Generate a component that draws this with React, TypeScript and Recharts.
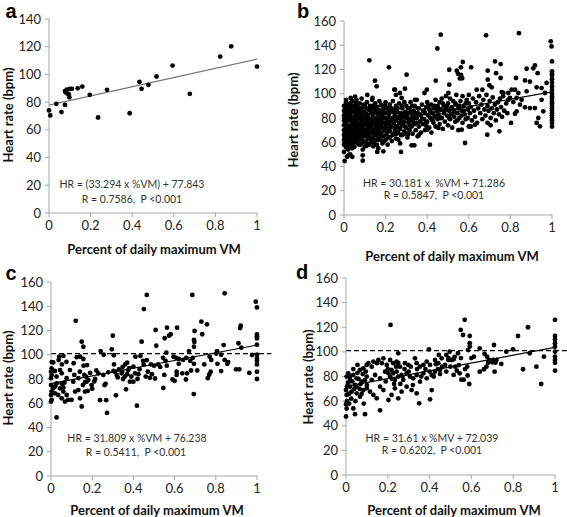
import React from "react";
import { ScatterChart, Scatter, XAxis, YAxis, ReferenceLine } from "recharts";

// x = share of daily maximum VM, y = heart rate (bpm)
const xTicks = [0, 0.2, 0.4, 0.6, 0.8, 1];
const yTicksA = [0, 20, 40, 60, 80, 100, 120, 140];
const yTicks = [0, 20, 40, 60, 80, 100, 120, 140, 160];

const pointsA: [number, number][] = [
  [0, 74], [0.006, 70.4], [0.035, 78.8], [0.06, 72.8], [0.077, 78], [0.077, 88], [0.08, 87], [0.085, 89],
  [0.09, 86], [0.095, 85.7], [0.098, 83.5], [0.1, 89.6], [0.11, 89.6], [0.138, 90], [0.16, 91.2], [0.196, 85.3],
  [0.236, 68.9], [0.279, 88.9], [0.388, 72], [0.435, 94.6], [0.445, 89.6], [0.478, 92.5], [0.517, 98.5],
  [0.594, 106.4], [0.677, 86], [0.823, 112.9], [0.876, 120.3], [1, 105.7],
];

const pointsB: [number, number][] = [
  // sparse / outlying points
  [0.122, 127.6], [0.216, 121.8], [0.149, 110.8], [0.157, 106.1], [0.242, 103.4], [0.25, 99], [0.016, 48.4],
  [0.024, 49.5], [0.09, 49.2], [0.09, 44.8], [0.003, 44.5], [0.16, 52], [0.189, 52.5], [0.141, 56.6], [0.101, 56.6],
  [0.077, 63], [0.03, 67], [0.01, 95], [0.032, 96.5], [0.053, 97.7], [0.112, 99], [0.085, 96], [0.137, 96.5],
  [0.465, 148.7], [0.449, 137.3], [0.301, 115.7], [0.506, 119.8], [0.441, 110.8], [0.506, 107.5], [0.293, 104.2],
  [0.245, 103.4], [0.398, 103.4], [0.269, 100.6], [0.387, 100.6], [0.277, 96.5], [0.341, 95], [0.502, 100.6],
  [0.274, 52], [0.325, 57.5], [0.338, 57.5], [0.413, 58], [0.354, 64.9], [0.36, 66], [0.309, 66.8], [0.454, 71.8],
  [0.261, 62.1], [0.25, 66.8], [0.4, 70.5], [0.397, 73],
  [0.683, 148.2], [0.726, 126.7], [0.753, 124.5], [0.571, 126.2], [0.562, 121.8], [0.611, 121.8], [0.542, 119],
  [0.691, 119], [0.731, 117], [0.548, 116.5], [0.563, 115.5], [0.568, 112.8], [0.557, 112.6], [0.691, 111.6],
  [0.753, 113], [0.699, 107], [0.71, 105.3], [0.638, 103.4], [0.665, 103.4], [0.758, 101.4], [0.766, 100.6],
  [0.705, 74], [0.747, 69], [0.689, 66.2], [0.582, 59.4], [0.566, 70.4], [0.63, 74.5], [0.61, 73],
  [0.841, 150], [0.994, 143.2], [0.998, 139], [1, 126.7], [1, 118.5], [1, 117], [1, 115], [1, 112], [1, 109],
  [1, 106], [1, 103], [1, 100], [1, 98], [1, 96], [1, 94], [1, 92], [1, 90], [1, 88], [1, 86], [1, 84], [1, 82],
  [1, 80], [1, 78], [1, 76], [1, 73], [0.918, 123.4], [0.91, 121], [0.878, 120.6], [0.931, 117], [0.827, 113],
  [0.87, 111], [0.894, 110], [0.926, 105.3], [0.95, 104.7], [0.974, 108.9], [0.806, 103.4], [0.822, 103.4],
  [0.838, 100.6], [0.79, 100.6], [0.878, 102], [0.966, 100.6], [0.798, 96.5], [0.83, 96.5], [0.854, 95],
  [0.814, 93.2], [0.846, 91], [0.87, 88.8], [0.894, 88.2], [0.918, 88.2], [0.83, 85.5], [0.95, 95], [0.958, 85.5],
  [0.934, 80], [0.803, 75.9], [0.926, 75.9], [0.942, 73.1], [0.822, 83.5],
  // dense cloud
  [0, 52], [0, 58], [0, 62], [0, 66], [0, 70], [0, 74], [0, 78], [0, 82], [0, 86], [0, 90], [0.005, 60],
  [0.005, 68], [0.005, 76], [0.005, 84], [0.01, 56], [0.01, 64], [0.01, 72], [0.01, 80], [0.01, 88], [0.01, 93],
  [0.015, 48], [0.015, 62], [0.015, 70], [0.015, 78], [0.015, 86], [0.02, 54], [0.02, 66], [0.02, 74], [0.02, 82],
  [0.02, 90], [0.025, 60], [0.025, 68], [0.025, 79], [0.025, 87], [0.03, 50], [0.03, 57], [0.03, 64], [0.03, 72],
  [0.03, 84], [0.03, 92], [0.035, 62], [0.035, 70], [0.035, 77], [0.035, 89], [0.04, 48], [0.04, 59], [0.04, 66],
  [0.04, 74], [0.04, 81], [0.04, 94], [0.045, 63], [0.045, 71], [0.045, 85], [0.05, 56], [0.05, 68], [0.05, 76],
  [0.05, 80], [0.05, 90], [0.055, 61], [0.055, 73], [0.055, 87], [0.06, 65], [0.06, 70], [0.06, 78], [0.06, 83],
  [0.06, 95], [0.065, 59], [0.065, 68], [0.065, 75], [0.065, 89], [0.07, 62], [0.07, 72], [0.07, 80], [0.07, 86],
  [0.075, 66], [0.075, 76], [0.075, 92], [0.08, 58], [0.08, 69], [0.08, 74], [0.08, 83], [0.085, 63], [0.085, 78],
  [0.085, 88], [0.09, 54], [0.09, 67], [0.09, 72], [0.09, 81], [0.095, 61], [0.095, 76], [0.095, 85], [0.1, 65],
  [0.1, 70], [0.1, 79], [0.1, 90], [0.105, 60], [0.105, 74], [0.105, 84], [0.11, 67], [0.11, 77], [0.11, 93],
  [0.115, 63], [0.115, 71], [0.115, 82], [0.12, 58], [0.12, 69], [0.12, 75], [0.12, 87], [0.125, 64], [0.125, 79],
  [0.125, 90], [0.13, 61], [0.13, 72], [0.13, 84], [0.135, 68], [0.135, 76], [0.135, 95], [0.14, 63], [0.14, 74],
  [0.14, 81], [0.14, 88], [0.145, 59], [0.145, 70], [0.145, 78], [0.15, 66], [0.15, 85], [0.15, 92], [0.155, 62],
  [0.155, 73], [0.155, 80], [0.16, 68], [0.16, 76], [0.16, 89], [0.165, 55], [0.165, 65], [0.165, 83], [0.17, 71],
  [0.17, 79], [0.17, 94], [0.175, 62], [0.175, 74], [0.175, 86], [0.18, 68], [0.18, 77], [0.18, 82], [0.185, 59],
  [0.185, 72], [0.185, 90], [0.19, 65], [0.19, 80], [0.19, 87], [0.195, 70], [0.195, 76], [0.2, 62], [0.2, 73],
  [0.2, 84], [0.2, 93], [0.205, 67], [0.205, 79], [0.21, 58], [0.21, 71], [0.21, 88], [0.215, 75], [0.215, 83],
  [0.22, 64], [0.22, 69], [0.22, 91], [0.225, 77], [0.225, 85], [0.23, 61], [0.23, 73], [0.235, 80], [0.235, 94],
  [0.24, 67], [0.24, 76], [0.24, 87], [0.245, 70], [0.245, 82], [0.25, 63], [0.25, 78], [0.25, 90], [0.255, 73],
  [0.255, 85], [0.26, 68], [0.26, 80], [0.265, 76], [0.265, 92], [0.27, 59], [0.27, 71], [0.27, 84], [0.275, 79],
  [0.28, 66], [0.28, 74], [0.28, 88], [0.285, 81], [0.29, 69], [0.29, 77], [0.29, 93], [0.295, 85], [0.3, 72],
  [0.3, 80], [0.3, 90], [0.305, 64], [0.31, 76], [0.31, 84], [0.315, 70], [0.315, 88], [0.32, 79], [0.32, 93],
  [0.325, 73], [0.33, 67], [0.33, 82], [0.335, 86], [0.34, 75], [0.34, 90], [0.345, 70], [0.35, 80], [0.35, 95],
  [0.355, 84], [0.36, 73], [0.36, 88], [0.365, 77], [0.37, 68], [0.37, 82], [0.375, 91], [0.38, 75], [0.38, 86],
  [0.385, 79], [0.39, 70], [0.39, 84], [0.395, 89], [0.4, 77], [0.4, 93], [0.405, 82], [0.41, 72], [0.41, 87],
  [0.415, 80], [0.42, 68], [0.42, 91], [0.425, 84], [0.43, 76], [0.43, 88], [0.435, 81], [0.44, 73], [0.44, 95],
  [0.445, 86], [0.45, 79], [0.45, 90], [0.455, 83], [0.46, 75], [0.46, 93], [0.465, 87], [0.47, 80], [0.47, 96],
  [0.475, 71], [0.48, 84], [0.48, 90], [0.485, 77], [0.49, 88], [0.49, 98], [0.495, 82], [0.5, 74], [0.5, 92],
  [0.505, 86], [0.51, 79], [0.51, 96], [0.515, 83], [0.52, 89], [0.52, 72], [0.525, 94], [0.53, 81], [0.53, 86],
  [0.535, 77], [0.54, 91], [0.54, 99], [0.545, 84], [0.55, 70], [0.55, 88], [0.555, 80], [0.56, 94], [0.565, 86],
  [0.57, 76], [0.57, 98], [0.575, 90], [0.58, 83], [0.585, 79], [0.59, 95], [0.595, 87], [0.6, 73], [0.6, 92],
  [0.6, 99], [0.605, 84], [0.61, 89], [0.615, 78], [0.62, 96], [0.625, 86], [0.63, 81], [0.635, 93], [0.64, 76],
  [0.645, 88], [0.65, 98], [0.655, 84], [0.66, 91], [0.665, 79], [0.67, 95], [0.675, 87], [0.68, 82], [0.685, 99],
  [0.69, 76], [0.69, 90], [0.695, 86], [0.7, 94], [0.705, 80], [0.71, 88], [0.715, 97], [0.72, 84], [0.725, 91],
  [0.73, 78], [0.735, 87], [0.74, 93], [0.745, 83], [0.75, 96], [0.755, 89], [0.76, 81], [0.765, 98], [0.77, 86],
  [0.78, 92], [0.785, 84], [0.79, 95],
  // second pass over the dark mass on the left
  [0.003, 64], [0.003, 80], [0.008, 70], [0.008, 86], [0.013, 59], [0.013, 75], [0.013, 91], [0.018, 67],
  [0.018, 83], [0.023, 56], [0.023, 72], [0.023, 88], [0.028, 63], [0.028, 79], [0.033, 68], [0.033, 86],
  [0.038, 55], [0.038, 73], [0.038, 90], [0.043, 67], [0.043, 78], [0.048, 60], [0.048, 86], [0.053, 71],
  [0.053, 82], [0.058, 66], [0.058, 92], [0.063, 63], [0.063, 79], [0.068, 70], [0.068, 84], [0.073, 58],
  [0.073, 75], [0.078, 64], [0.078, 88], [0.083, 72], [0.083, 80], [0.088, 60], [0.088, 85], [0.093, 70],
  [0.093, 91], [0.098, 66], [0.098, 74], [0.103, 82], [0.108, 57], [0.108, 70], [0.108, 88], [0.113, 75],
  [0.118, 66], [0.118, 80], [0.123, 72], [0.128, 60], [0.128, 85], [0.133, 68], [0.133, 77], [0.138, 90],
  [0.143, 66], [0.143, 84], [0.148, 74], [0.153, 70], [0.153, 88], [0.158, 58], [0.158, 78], [0.163, 72],
  [0.168, 62], [0.168, 86], [0.173, 67], [0.178, 80], [0.178, 91], [0.183, 65], [0.188, 76], [0.188, 84],
  [0.193, 61], [0.198, 80], [0.198, 90], [0.203, 70], [0.208, 76], [0.213, 64], [0.213, 85], [0.218, 80],
  [0.223, 72], [0.228, 88], [0.233, 66], [0.238, 78], [0.243, 84], [0.248, 73], [0.253, 68], [0.258, 88],
  [0.263, 72], [0.268, 82], [0.273, 66], [0.278, 90], [0.283, 76], [0.288, 84], [0.293, 73], [0.298, 67],
  [0.303, 82], [0.308, 88], [0.313, 78], [0.318, 74], [0.323, 85], [0.328, 90], [0.333, 77], [0.338, 80],
  [0.343, 84], [0.348, 76], [0.355, 88], [0.365, 83], [0.375, 79], [0.385, 86], [0.395, 76], [0.405, 90],
  [0.415, 85], [0.425, 78], [0.435, 90], [0.445, 82], [0.455, 88], [0.465, 80], [0.475, 92], [0.485, 86],
  [0.495, 90], [0.505, 80], [0.515, 88], [0.525, 84], [0.535, 92], [0.545, 78], [0.555, 90], [0.565, 82],
  [0.575, 86], [0.585, 92], [0.595, 80],
];

const pointsC: [number, number][] = [
  [0.12, 128], [0.149, 110.8], [0.157, 106.6], [0.3, 115.7], [0.44, 110.8], [0.451, 137.7], [0.465, 149.3],
  [0.508, 120.4], [0.511, 107.5], [0.552, 113.6], [0.563, 122.3], [0.573, 115.7], [0.581, 116.9], [0.612, 122.3],
  [0.67, 103], [0.686, 149.3], [0.694, 112.2], [0.696, 110.6], [0.694, 106.6], [0.697, 119.6], [0.73, 127.3],
  [0.734, 116.9], [0.757, 125.1], [0.806, 103], [0.826, 100], [0.838, 108], [0.843, 150.7], [0.91, 109.5],
  [0.918, 122], [0.921, 124], [0.924, 105.8], [0.976, 99.8], [0.994, 143.8], [1, 139], [1, 116.8], [1, 115],
  [1, 113.5], [1, 108.3], [1, 100], [1, 97], [1, 95], [1, 92], [1, 86], [1, 80],
  [0.56, 101.7], [0.52, 92], [0.53, 90], [0.562, 91], [0.62, 92.5], [0.637, 84.7], [0.61, 86], [0.61, 83.4],
  [0.66, 84.7], [0.68, 87], [0.694, 92.5], [0.71, 87], [0.744, 92], [0.775, 86], [0.768, 83.5], [0.761, 80.7],
  [0.808, 92.5], [0.826, 86.5], [0.856, 92.5], [0.898, 88], [0.914, 88], [0.963, 85], [0.55, 83.4], [0.59, 79.6],
  [0.6, 78.4], [0.655, 79.6], [0.545, 72.6], [0.693, 67.6], [0.505, 80.4], [0.544, 97.5], [0.556, 95],
  [0.595, 98.4], [0.608, 97.5], [0.621, 96.5], [0.641, 95.7], [0.676, 95], [0.689, 97.5], [0.657, 97.5],
  [0.77, 98.4], [0.802, 101], [0.778, 95.7], [0.843, 95.7], [0.86, 94],
  [0.04, 98.4], [0.06, 99], [0.011, 93.7], [0.004, 94], [0.037, 95.6], [0.053, 92], [0.075, 94.2], [0.11, 93],
  [0.125, 98], [0.141, 98.4], [0.157, 96.5], [0.158, 91], [0.175, 91.5], [0.241, 103], [0.295, 104.5],
  [0.305, 99.6], [0.256, 100], [0.41, 98.4], [0.434, 99], [0.306, 92], [0.36, 92], [0.37, 93.5], [0.348, 90],
  [0.447, 95], [0.465, 95.5], [0.485, 92],
  [0.003, 88.8], [0, 86.1], [0.019, 86.6], [0.044, 87.4], [0.003, 83.4], [0.027, 82], [0, 80.7], [0.052, 84.7],
  [0.076, 80.7], [0.092, 87.4], [0.113, 83.4], [0.133, 80.7], [0.108, 77.8], [0.162, 83.4], [0.181, 79.2],
  [0.165, 77.3], [0.214, 80], [0.197, 75], [0.23, 84.7], [0.254, 83.4], [0.278, 85.5], [0.303, 86.6],
  [0.319, 83.4], [0.343, 84.7], [0.359, 82], [0.324, 81.3], [0.375, 87.4], [0.4, 90.2], [0.408, 84.7],
  [0.383, 77.8], [0.424, 84],
  [0, 75], [0.011, 72.3], [0.003, 69.6], [0, 66.8], [0.019, 68.2], [0.035, 66.8], [0.044, 72.3], [0.027, 76.3],
  [0.052, 76.3], [0.06, 69.6], [0.076, 66.8], [0.052, 64.1], [0.003, 62.8], [0, 61.4], [0.068, 61.4],
  [0.084, 62.8], [0.1, 62.8], [0.117, 69.6], [0.133, 70.9], [0.141, 64.1], [0.149, 57.3], [0.165, 69.6],
  [0.178, 70.2], [0.173, 77.8], [0.027, 48.3], [0.02, 74], [0.06, 73], [0.065, 77],
  [0.238, 62.5], [0.268, 62.5], [0.272, 52], [0.26, 75], [0.265, 76], [0.315, 66.5], [0.364, 71.5], [0.4, 77.8],
  [0.417, 58], [0.2, 72], [0.311, 86], [0.33, 88], [0.345, 86], [0.38, 89], [0.39, 82], [0.43, 88], [0.45, 92],
  [0.47, 86], [0.49, 84], [0.5, 91], [0.46, 82], [0.42, 80], [0.48, 81], [0.35, 80], [0.37, 84], [0.22, 87],
  [0.19, 85], [0.21, 78], [0.17, 82], [0.14, 86], [0.155, 75],
];

const pointsD: [number, number][] = [
  [0.568, 126], [0.549, 117.8], [0.56, 113.7], [0.592, 112.9], [0.592, 107], [0.592, 104.3], [0.584, 101.5],
  [0.871, 120], [0.823, 112.9], [1, 126], [1, 112.9], [1, 110.2], [1, 107], [1, 104.2], [1, 100.2], [1, 96.1],
  [1, 93.4], [1, 91.2], [1, 84.7], [0.708, 105.6], [0.64, 102.9], [0.767, 100.2], [0.799, 102.1], [0.879, 98.9],
  [0.947, 96.1], [0.847, 85.9], [0.911, 88], [0.934, 73.9], [0.612, 96.1], [0.663, 98.3], [0.675, 96.1],
  [0.685, 93.4], [0.69, 92.5], [0.7, 91.5], [0.705, 93.4], [0.715, 91.2], [0.72, 93.4], [0.68, 91.2], [0.672, 88],
  [0.66, 85.9], [0.743, 90.2], [0.64, 83.9], [0.711, 83.9], [0.536, 98.9], [0.496, 100.2], [0.49, 95],
  [0.505, 93.4], [0.515, 94], [0.523, 88], [0.54, 89.3], [0.544, 82.6], [0.515, 81.3], [0.563, 77.4],
  [0.552, 77.4], [0.582, 80.8], [0.59, 73.9], [0.53, 84.7], [0.5, 88], [0.52, 96], [0.55, 95], [0.57, 86],
  [0.58, 88], [0.6, 95],
  [0.213, 121.9], [0.397, 102], [0.25, 98.8], [0.444, 97.5], [0.48, 97.5],
  [0.055, 89.4], [0.067, 85.3], [0.083, 86.6], [0.099, 89.4], [0.107, 90.8], [0.123, 88], [0.131, 92.1],
  [0.147, 90.8], [0.155, 93.4], [0.171, 90.8], [0.179, 94.8], [0.195, 89.4], [0.211, 93.4], [0.226, 90.8],
  [0.242, 92.1], [0.258, 88], [0.282, 90.8], [0.298, 89.4], [0.33, 94.8], [0.338, 90.8], [0.354, 88],
  [0.37, 89.4], [0.386, 92.1], [0.402, 89.4], [0.426, 93.4], [0.442, 90.8], [0.458, 94.8], [0.474, 89.4],
  [0.49, 93.4],
  [0.003, 79.9], [0.019, 77.2], [0.011, 82.6], [0.035, 81.2], [0.051, 78.5], [0.075, 75.8], [0.099, 79.9],
  [0.123, 77.2], [0.139, 81.2], [0.163, 78.5], [0.187, 83.9], [0.203, 82.6], [0.211, 79.9], [0.218, 85.3],
  [0.226, 82.6], [0.234, 77.2], [0.242, 83.9], [0.25, 79.9], [0.266, 81.2], [0.274, 77.2], [0.29, 82.6],
  [0.306, 79.9], [0.322, 78.5], [0.338, 81.2], [0.354, 75.8], [0.37, 82.6], [0.386, 78.5], [0.41, 81.2],
  [0.426, 83.9], [0.45, 85.3],
  [0, 69], [0.003, 65], [0.019, 71.7], [0.027, 67.7], [0.043, 73.1], [0.051, 66.3], [0.067, 63.6], [0.083, 69],
  [0.099, 70.4], [0.115, 67.7], [0.131, 65], [0.147, 62.3], [0.163, 71.7], [0.179, 69], [0.203, 60.9],
  [0.218, 65], [0.234, 70.4], [0.25, 62.3], [0.266, 67.7], [0.29, 71.7], [0.314, 69], [0.338, 66.3],
  [0.35, 58.2], [0.402, 61.5], [0.41, 69],
  [0, 47.5], [0.043, 49.4], [0.091, 49.4], [0.163, 52.5], [0.003, 54], [0.015, 58], [0.005, 60], [0, 57.5],
  [0.035, 54],
  [0.01, 75], [0.02, 80], [0.03, 76], [0.04, 70], [0.05, 72], [0.06, 78], [0.07, 74], [0.08, 82], [0.09, 77],
  [0.1, 73], [0.005, 72], [0.015, 66], [0.025, 62], [0.035, 86], [0.045, 60], [0.055, 83], [0.065, 70],
  [0.075, 66], [0.085, 58], [0.095, 84],
  [0.2, 86], [0.22, 78], [0.24, 88], [0.26, 74], [0.28, 86], [0.19, 76], [0.23, 74], [0.25, 91], [0.27, 80],
  [0.3, 84], [0.31, 88], [0.32, 73], [0.34, 86], [0.36, 80], [0.38, 86], [0.4, 84], [0.42, 80], [0.44, 86],
  [0.46, 88], [0.48, 84], [0.43, 90], [0.45, 82],
];

// fitted lines, value at x = 0 and x = 1
const trendA = [77.8, 111.1];
const trendB = [71.3, 101.5];
const trendC = [76.2, 108.0];
const trendD = [72.0, 103.6];
const refHR = 101;

const FONT = "Lato, 'Open Sans', sans-serif";
const AXIS = "#a6a6a6";

const Dot = (p: any) => <circle cx={p.cx} cy={p.cy} r={2.4} fill="#000" />;

function Panel(props: any) {
  const { left, top, width, height, yW, mTop, mRight, xH, yMax, ticks, pts, trend, trendColor, dashTo } = props;
  const data = pts.map(([x, y]: [number, number]) => ({ x, y }));
  const tickStyle = { fill: "#222", fontSize: 13, fontFamily: FONT };
  return (
    <div style={{ position: "absolute", left, top }}>
      <ScatterChart width={width} height={height} margin={{ top: mTop, right: mRight, left: 0, bottom: 0 }}>
        <XAxis
          type="number"
          dataKey="x"
          domain={[0, 1]}
          ticks={xTicks}
          height={xH}
          tickSize={4}
          tickMargin={4}
          tick={tickStyle}
          axisLine={{ stroke: AXIS }}
          tickLine={{ stroke: AXIS }}
        />
        <YAxis
          type="number"
          dataKey="y"
          domain={[0, yMax]}
          ticks={ticks}
          width={yW}
          tickSize={4}
          tickMargin={4}
          tick={tickStyle}
          axisLine={{ stroke: AXIS }}
          tickLine={{ stroke: AXIS }}
        />
        {dashTo ? (
          <ReferenceLine
            segment={[{ x: 0, y: refHR }, { x: dashTo, y: refHR }]}
            stroke="#000"
            strokeWidth={1.3}
            strokeDasharray="5 3"
            ifOverflow="visible"
          />
        ) : null}
        <ReferenceLine
          segment={[{ x: 0, y: trend[0] }, { x: 1, y: trend[1] }]}
          stroke={trendColor}
          strokeWidth={1.2}
          ifOverflow="visible"
        />
        <Scatter data={data} shape={Dot} isAnimationActive={false} />
      </ScatterChart>
    </div>
  );
}

const txt = (x: number, y: number, s: string, style: any = {}) => (
  <div
    style={{
      position: "absolute",
      left: x,
      top: y,
      transform: "translate(-50%, -50%)",
      whiteSpace: "pre",
      lineHeight: 1,
      fontFamily: FONT,
      ...style,
    }}
  >
    {s}
  </div>
);

const xTitle = { fontWeight: 700, fontSize: 13, color: "#111" };
const eq = { fontSize: 10.5, color: "#333" };
const letter = { fontWeight: 700, fontSize: 20, fontFamily: "'Liberation Sans', Arial, sans-serif", color: "#000" };

function YTitle({ x, y }: { x: number; y: number }) {
  return (
    <div
      style={{
        position: "absolute",
        left: x,
        top: y,
        transform: "translate(-50%, -50%) rotate(-90deg)",
        whiteSpace: "nowrap",
        lineHeight: 1,
        fontFamily: FONT,
        fontWeight: 700,
        fontSize: 13,
        color: "#111",
      }}
    >
      Heart rate (bpm)
    </div>
  );
}

export default function App() {
  return (
    <div style={{ position: "absolute", left: 0, top: 0, width: 567, height: 517, background: "#fff", overflow: "hidden" }}>
      <Panel left={0} top={0} width={283} height={258} yW={49} mTop={19} mRight={26} xH={45}
        yMax={140} ticks={yTicksA} pts={pointsA} trend={trendA} trendColor="#777" />
      <Panel left={283} top={0} width={284} height={258} yW={61} mTop={21} mRight={15} xH={43}
        yMax={160} ticks={yTicks} pts={pointsB} trend={trendB} trendColor="#000" />
      <Panel left={0} top={258} width={283} height={259} yW={51} mTop={24} mRight={26} xH={41}
        yMax={160} ticks={yTicks} pts={pointsC} trend={trendC} trendColor="#000" dashTo={1.07} />
      <Panel left={283} top={258} width={284} height={259} yW={63} mTop={20} mRight={12} xH={42}
        yMax={160} ticks={yTicks} pts={pointsD} trend={trendD} trendColor="#000" dashTo={1.06} />

      {txt(11, 11, "a", letter)}
      {txt(303, 11, "b", letter)}
      {txt(11, 273, "c", letter)}
      {txt(302, 272, "d", letter)}

      <YTitle x={8} y={115} />
      <YTitle x={293} y={120} />
      <YTitle x={8} y={378} />
      <YTitle x={308} y={377} />

      {txt(154, 249, "Percent of daily maximum VM", xTitle)}
      {txt(452, 256, "Percent of daily maximum VM", xTitle)}
      {txt(157, 510, "Percent of daily maximum VM", xTitle)}
      {txt(454, 510, "Percent of daily maximum VM", xTitle)}

      {txt(132, 184, "HR = (33.294 x %VM) + 77.843", eq)}
      {txt(132, 199, "R = 0.7586,  P <0.001", eq)}
      {txt(434, 183, "HR = 30.181 x  %VM + 71.286", eq)}
      {txt(434, 195, "R = 0.5847,  P <0.001", eq)}
      {txt(137, 438, "HR = 31.809 x %VM + 76.238", eq)}
      {txt(136, 452, "R = 0.5411,  P <0.001", eq)}
      {txt(432, 438, "HR = 31.61 x %MV + 72.039", eq)}
      {txt(432, 450, "R = 0.6202,  P <0.001", eq)}
    </div>
  );
}
